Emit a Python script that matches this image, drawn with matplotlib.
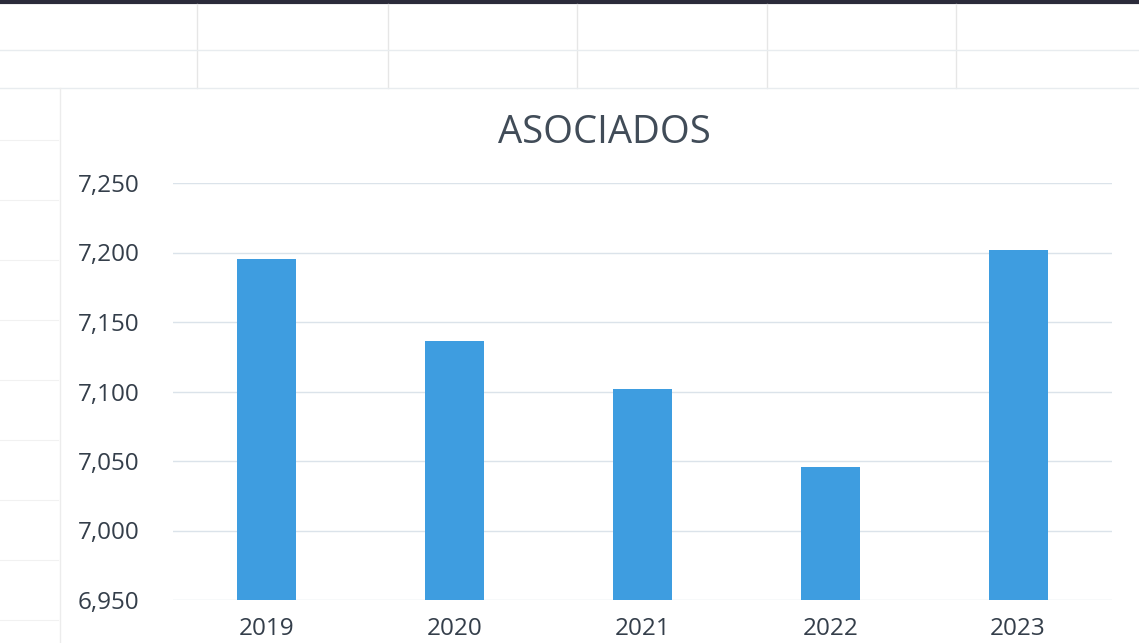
import matplotlib
matplotlib.use("Agg")
import matplotlib.pyplot as plt
from matplotlib.lines import Line2D
from matplotlib.ticker import FuncFormatter

years = ["2019", "2020", "2021", "2022", "2023"]
asociados = [7195, 7136, 7102, 7046, 7202]
y_ticks = [6950, 7000, 7050, 7100, 7150, 7200, 7250]

W, H = 1139, 643
fig = plt.figure(figsize=(W / 100, H / 100), dpi=100)
fig.patch.set_facecolor("white")

def fx(px):
    return px / W

def fy(py):
    return 1 - py / H

# spreadsheet background lines (scan of Excel sheet)
fig.add_artist(Line2D([0, 1], [fy(2), fy(2)], color="#2b2b3a", lw=3.0))
for x in [197, 388, 577, 767, 956]:
    fig.add_artist(Line2D([fx(x), fx(x)], [fy(4), fy(88)], color="#e6e6e6", lw=1.0))
for y in [50, 88]:
    fig.add_artist(Line2D([0, 1], [fy(y), fy(y)], color="#e8ecef", lw=1.0))
for y in [140, 200, 260, 320, 380, 440, 500, 560, 620]:
    fig.add_artist(Line2D([0, fx(58)], [fy(y), fy(y)], color="#f1f1f1", lw=0.8))
fig.add_artist(Line2D([fx(60), fx(60)], [fy(88), 0], color="#ececec", lw=1.0))

ax = fig.add_axes([fx(173), fy(600), fx(1112) - fx(173), fy(183) - fy(600)])
ax.set_facecolor("white")

x = range(len(years))
ax.bar(x, [v - y_ticks[0] for v in asociados], bottom=y_ticks[0],
       width=0.315, color="#3E9DE0", zorder=3)

ax.set_xlim(-0.5, len(years) - 0.5)
ax.set_ylim(y_ticks[0], y_ticks[-1])
ax.set_yticks(y_ticks)
ax.yaxis.set_major_formatter(FuncFormatter(lambda v, p: f"{int(v):,}"))
ax.set_xticks(list(x))
ax.set_xticklabels(years)

ax.grid(axis="y", color="#dbe3ea", lw=1.0, zorder=0)
for s in ax.spines.values():
    s.set_visible(False)
ax.tick_params(axis="both", length=0, colors="#343e4a", labelsize=17.5)
ax.tick_params(axis="y", pad=24)
ax.tick_params(axis="x", pad=12)
for lab in ax.get_xticklabels() + ax.get_yticklabels():
    lab.set_fontfamily("Open Sans")

fig.text(fx(604), fy(133), "ASOCIADOS", ha="center", va="center",
         fontsize=27.5, color="#414c58", fontfamily="Open Sans")

fig.savefig("out.png", dpi=100)
